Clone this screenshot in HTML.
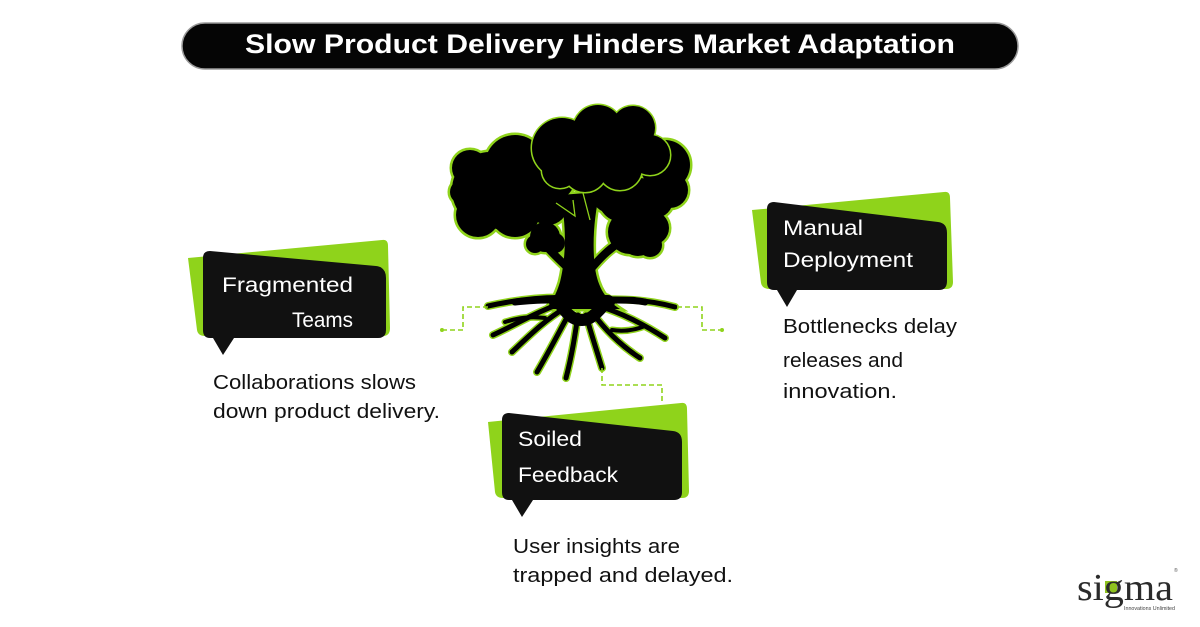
<!DOCTYPE html>
<html>
<head>
<meta charset="utf-8">
<style>
html,body{margin:0;padding:0;background:#fff;}
body{width:1200px;height:627px;overflow:hidden;}
svg{display:block;}
.t{font-family:"Liberation Sans",sans-serif;}
.lbl{font-family:"Liberation Sans",sans-serif;font-size:21px;fill:#fff;}
.desc{font-family:"Liberation Sans",sans-serif;font-size:20px;fill:#111;}
</style>
</head>
<body>
<svg width="1200" height="627" viewBox="0 0 1200 627" xmlns="http://www.w3.org/2000/svg">
  <defs>
    <g id="back">
      <circle cx="490" cy="190" r="38"/>
      <circle cx="515" cy="165" r="30"/>
      <circle cx="548" cy="175" r="28"/>
      <circle cx="478" cy="215" r="22"/>
      <circle cx="515" cy="212" r="25"/>
      <circle cx="548" cy="205" r="20"/>
      <circle cx="470" cy="168" r="18"/>
      <circle cx="505" cy="195" r="35"/>
      <circle cx="530" cy="188" r="30"/>
      <circle cx="462" cy="192" r="12"/>
      <circle cx="665" cy="165" r="25"/>
      <circle cx="670" cy="190" r="18"/>
      <circle cx="640" cy="200" r="22"/>
      <circle cx="610" cy="195" r="18"/>
      <circle cx="622" cy="198" r="24"/>
      <circle cx="655" cy="200" r="18"/>
      <circle cx="630" cy="232" r="22"/>
      <circle cx="652" cy="228" r="17"/>
      <circle cx="650" cy="245" r="12"/>
      <circle cx="638" cy="238" r="18"/>
      <circle cx="545" cy="237" r="15"/>
      <circle cx="555" cy="243" r="10"/>
      <circle cx="535" cy="244" r="9"/>
      <path d="M560,195 C567,225 566,258 560,282 C555,298 550,305 545,309 L620,309 C606,300 598,288 595,268 C592,245 594,215 600,192 Z"/>
    </g>
    <g id="center">
      <circle cx="562" cy="148" r="30"/>
      <circle cx="598" cy="130" r="25"/>
      <circle cx="633" cy="128" r="22"/>
      <circle cx="650" cy="155" r="20"/>
      <circle cx="620" cy="168" r="22"/>
      <circle cx="585" cy="170" r="22"/>
      <circle cx="560" cy="170" r="18"/>
      <circle cx="600" cy="152" r="28"/>
      <circle cx="628" cy="148" r="24"/>
    </g>
  </defs>

  <!-- Title bar -->
  <rect x="182" y="23" width="836" height="46" rx="23" ry="23" fill="#050505" stroke="#9a9a9a" stroke-width="1.5"/>
  <text class="t" x="600" y="53" text-anchor="middle" font-size="27" font-weight="bold" fill="#fff" textLength="710" lengthAdjust="spacingAndGlyphs">Slow Product Delivery Hinders Market Adaptation</text>

  <!-- Tree: branches to small clouds -->
  <g fill="none" stroke-linecap="round">
    <path d="M572,272 C562,262 555,256 548,248" stroke="#8fd31b" stroke-width="12"/>
    <path d="M590,270 C600,258 608,250 620,242" stroke="#8fd31b" stroke-width="12"/>
  </g>
  <!-- roots green outline -->
  <g fill="none" stroke="#8fd31b" stroke-linecap="round">
    <path d="M575,298 C545,296 515,300 488,306" stroke-width="8"/>
    <path d="M565,302 C540,310 515,325 493,335" stroke-width="8"/>
    <path d="M565,308 C545,320 530,335 512,352" stroke-width="8"/>
    <path d="M545,318 C530,316 518,318 505,322" stroke-width="7"/>
    <path d="M570,312 C560,330 550,350 537,372" stroke-width="8"/>
    <path d="M578,315 C575,335 572,355 566,378" stroke-width="8"/>
    <path d="M586,315 C590,330 595,345 602,368" stroke-width="8"/>
    <path d="M592,312 C605,330 620,345 640,358" stroke-width="8"/>
    <path d="M612,330 C625,332 635,330 645,326" stroke-width="7"/>
    <path d="M598,306 C620,312 645,325 665,338" stroke-width="8"/>
    <path d="M595,300 C625,298 650,300 675,307" stroke-width="8"/>
    <path d="M560,302 L605,302" stroke-width="18"/>
  </g>
  <use href="#back" fill="#8fd31b" stroke="#8fd31b" stroke-width="5"/>
  <use href="#back" fill="#000" stroke="none"/>
  <g fill="none" stroke="#000" stroke-linecap="round">
    <path d="M572,272 C562,262 555,256 548,248" stroke-width="8"/>
    <path d="M590,270 C600,258 608,250 620,242" stroke-width="8"/>
    <path d="M575,298 C545,296 515,300 488,306" stroke-width="5"/>
    <path d="M565,302 C540,310 515,325 493,335" stroke-width="5"/>
    <path d="M565,308 C545,320 530,335 512,352" stroke-width="5"/>
    <path d="M545,318 C530,316 518,318 505,322" stroke-width="4"/>
    <path d="M570,312 C560,330 550,350 537,372" stroke-width="5"/>
    <path d="M578,315 C575,335 572,355 566,378" stroke-width="5"/>
    <path d="M586,315 C590,330 595,345 602,368" stroke-width="5"/>
    <path d="M592,312 C605,330 620,345 640,358" stroke-width="5"/>
    <path d="M612,330 C625,332 635,330 645,326" stroke-width="4"/>
    <path d="M598,306 C620,312 645,325 665,338" stroke-width="5"/>
    <path d="M595,300 C625,298 650,300 675,307" stroke-width="5"/>
    <path d="M556,302 L608,302" stroke-width="14"/>
    <path d="M562,307 C570,318 576,320 582,320 C590,320 596,314 603,306" stroke-width="12"/>
    <path d="M548,300 C535,300 525,301 515,302" stroke-width="7"/>
    <path d="M612,300 C625,300 635,300 645,302" stroke-width="7"/>
  </g>
  <use href="#center" fill="#8fd31b" stroke="#8fd31b" stroke-width="3"/>
  <use href="#center" fill="#000" stroke="none"/>
  <g fill="none" stroke="#8fd31b" stroke-width="1.3">
    <path d="M556,203 L575,216 L573,200"/>
    <path d="M583,193 L590,220"/>
  </g>

  <!-- Dashed connectors -->
  <g fill="none" stroke="#8fd31b" stroke-width="1.6" stroke-dasharray="5,3">
    <path d="M488,307 L463,307 L463,330 L444,330"/>
    <path d="M677,307 L702,307 L702,330 L720,330"/>
    <path d="M602,368 L602,385 L662,385 L662,402"/>
  </g>
  <circle cx="442" cy="330" r="2" fill="#8fd31b"/>
  <circle cx="722" cy="330" r="2" fill="#8fd31b"/>

  <!-- Left box -->
  <path d="M188,258 L382,240 Q388,239 388,246 L390,328 Q390,336 383,336 L205,336 Q198,336 197,330 Z" fill="#8fd31b"/>
  <path d="M210,251 L376,266 Q386,267 386,278 L386,330 Q386,338 378,338 L234,338 L223,355 L213,338 L210,338 Q203,338 203,330 L203,258 Q203,251 210,251 Z" fill="#111"/>
  <text class="lbl" x="222" y="292" textLength="131" lengthAdjust="spacingAndGlyphs">Fragmented</text>
  <text class="lbl" x="292" y="327" textLength="61" lengthAdjust="spacingAndGlyphs">Teams</text>
  <text class="desc" x="213" y="389" textLength="203" lengthAdjust="spacingAndGlyphs">Collaborations slows</text>
  <text class="desc" x="213" y="418" textLength="227" lengthAdjust="spacingAndGlyphs">down product delivery.</text>

  <!-- Right box -->
  <path d="M752,210 L944,192 Q950,191 950,198 L953,282 Q953,289 946,289 L770,289 Q762,289 761,283 Z" fill="#8fd31b"/>
  <path d="M774,202 L938,222 Q947,223 947,233 L947,281 Q947,290 939,290 L797,290 L787,307 L777,290 L774,290 Q767,290 767,282 L767,209 Q767,202 774,202 Z" fill="#111"/>
  <text class="lbl" x="783" y="235" textLength="80" lengthAdjust="spacingAndGlyphs">Manual</text>
  <text class="lbl" x="783" y="267" textLength="130" lengthAdjust="spacingAndGlyphs">Deployment</text>
  <text class="desc" x="783" y="333" textLength="174" lengthAdjust="spacingAndGlyphs">Bottlenecks delay</text>
  <text class="desc" x="783" y="367" textLength="120" lengthAdjust="spacingAndGlyphs">releases and</text>
  <text class="desc" x="783" y="398" textLength="114" lengthAdjust="spacingAndGlyphs">innovation.</text>

  <!-- Bottom box -->
  <path d="M488,422 L681,403 Q687,402 687,409 L689,491 Q689,498 682,498 L503,498 Q496,498 495,492 Z" fill="#8fd31b"/>
  <path d="M509,413 L673,431 Q682,432 682,442 L682,492 Q682,500 674,500 L533,500 L522,517 L512,500 L509,500 Q502,500 502,492 L502,420 Q502,413 509,413 Z" fill="#111"/>
  <text class="lbl" x="518" y="446" textLength="64" lengthAdjust="spacingAndGlyphs">Soiled</text>
  <text class="lbl" x="518" y="482" textLength="100" lengthAdjust="spacingAndGlyphs">Feedback</text>
  <text class="desc" x="513" y="553" textLength="167" lengthAdjust="spacingAndGlyphs">User insights are</text>
  <text class="desc" x="513" y="582" textLength="220" lengthAdjust="spacingAndGlyphs">trapped and delayed.</text>

  <!-- Logo -->
  <rect x="1105" y="581" width="12" height="12" fill="#8fc31f"/>
  <text x="1077" y="600" font-family="Liberation Serif, serif" font-size="38" fill="#2b2b2b" textLength="96" lengthAdjust="spacingAndGlyphs">sigma</text>
  <text x="1174" y="572" font-family="Liberation Sans, sans-serif" font-size="5" fill="#555">®</text>
  <text x="1124" y="610" font-family="Liberation Sans, sans-serif" font-size="5" fill="#444" textLength="51" lengthAdjust="spacingAndGlyphs">Innovations Unlimited</text>
</svg>
</body>
</html>
